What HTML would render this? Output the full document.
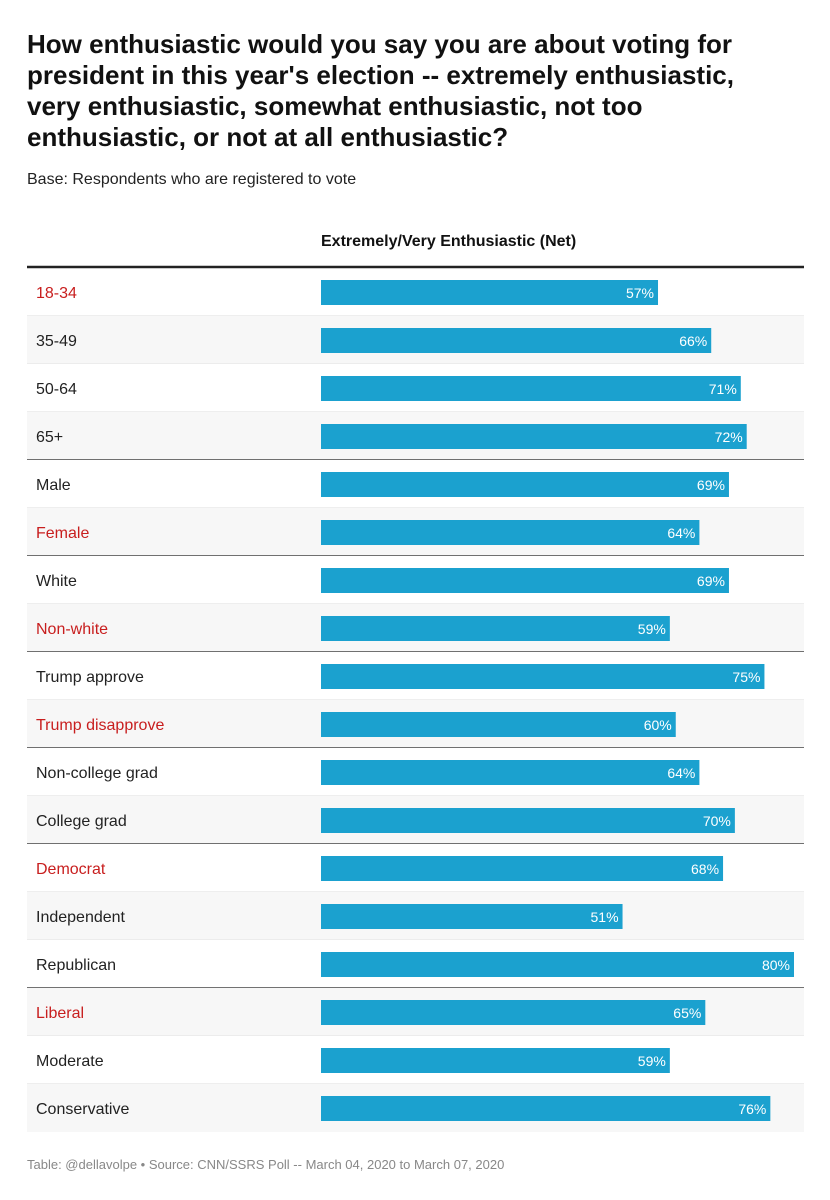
<!DOCTYPE html>
<html><head><meta charset="utf-8"><style>
body{margin:0;background:#fff;font-family:"Liberation Sans",sans-serif;}
#wrap{position:relative;width:830px;height:1200px;overflow:hidden;}
h1{position:absolute;left:27px;top:29px;width:765px;margin:0;font-size:26px;line-height:31px;font-weight:bold;color:#111;}
.sub{position:absolute;left:27px;top:171px;font-size:16px;color:#222}
.colh{position:absolute;left:321px;top:233px;font-size:16px;font-weight:bold;color:#111}
.foot{position:absolute;left:27px;top:1157px;font-size:13px;color:#888}
</style></head><body>
<div id="wrap">
<h1>How enthusiastic would you say you are about voting for president in this year's election -- extremely enthusiastic, very enthusiastic, somewhat enthusiastic, not too enthusiastic, or not at all enthusiastic?</h1>
<div class="sub">Base: Respondents who are registered to vote</div>
<div class="colh">Extremely/Very Enthusiastic (Net)</div>
<svg id="tbl" width="830" height="1200" style="position:absolute;left:0;top:0"></svg>
<div class="foot">Table: @dellavolpe • Source: CNN/SSRS Poll -- March 04, 2020 to March 07, 2020</div>
</div>
<script>
const categories=["18-34","35-49","50-64","65+","Male","Female","White","Non-white","Trump approve","Trump disapprove","Non-college grad","College grad","Democrat","Independent","Republican","Liberal","Moderate","Conservative"];
const values=[57,66,71,72,69,64,69,59,75,60,64,70,68,51,80,65,59,76];
const highlighted=[1,0,0,0,0,1,0,1,0,1,0,0,1,0,0,1,0,0];
const groupEnds=[3,5,7,9,11,14];
const NS="http://www.w3.org/2000/svg";
const svg=document.getElementById('tbl');
const top0=268,rowH=48,left=27,right=804,x0=321;
const xScale=v=>v/80*473;
function mk(t,a){const e=document.createElementNS(NS,t);for(const k in a)e.setAttribute(k,a[k]);svg.appendChild(e);return e;}
categories.forEach((c,i)=>{
 const y=top0+i*rowH;
 const bg=mk('rect',{x:left,y:y,width:right-left,height:rowH,fill:i%2?'#f7f7f7':'#fff'});
 
 
 if(i<categories.length-1){
  const g=groupEnds.includes(i);
  const ln=mk('line',{x1:left,x2:right,y1:y+rowH,y2:y+rowH,stroke:g?'#444':'#e8e8e8','stroke-width':1.5});
  
  
 }
 const t=mk('text',{x:36,y:y+30,'font-size':16,fill:highlighted[i]?'#c81e1e':'#222','font-family':'Liberation Sans, sans-serif'});
 t.textContent=c;
 
 
 const w=xScale(values[i]);
 const b=mk('rect',{x:x0,y:y+12,width:w,height:25,fill:'#1ba1cf'});
 
 
 const v=mk('text',{x:x0+w-4,y:y+30,'font-size':14,fill:'#fff','text-anchor':'end','font-family':'Liberation Sans, sans-serif'});
 v.textContent=values[i]+'%';
 
 
});
const th=mk('line',{x1:left,x2:right,y1:top0-1,y2:top0-1,stroke:'#222','stroke-width':2.5});


</script>
</body></html>
